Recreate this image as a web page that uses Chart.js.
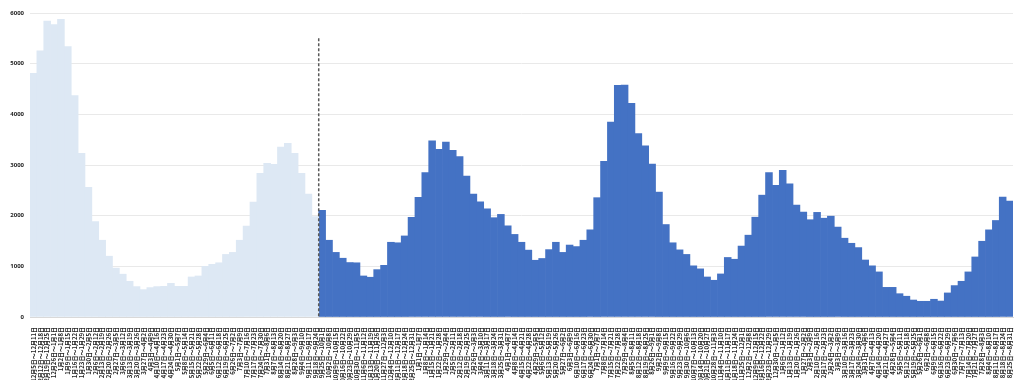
<!DOCTYPE html>
<html>
<head>
<meta charset="utf-8">
<script src="https://cdn.jsdelivr.net/npm/chart.js@4.4.1/dist/chart.umd.min.js"></script>
<style>
  html, body { margin: 0; padding: 0; background: #fff; }
  #wrap { width: 1024px; height: 380px; position: relative; }
</style>
</head>
<body>
<div id="wrap"><canvas id="weeklyChart"></canvas></div>
<script>

// weekly labels (Mon - Sun)
const weekLabels = [
  "12月5日〜12月11日","12月12日〜12月18日","12月19日〜12月25日","12月26日〜1月1日",
  "1月2日〜1月8日","1月9日〜1月15日","1月16日〜1月22日","1月23日〜1月29日","1月30日〜2月5日",
  "2月6日〜2月12日","2月13日〜2月19日","2月20日〜2月26日","2月27日〜3月5日",
  "3月6日〜3月12日","3月13日〜3月19日","3月20日〜3月26日","3月27日〜4月2日",
  "4月3日〜4月9日","4月10日〜4月16日","4月17日〜4月23日","4月24日〜4月30日",
  "5月1日〜5月7日","5月8日〜5月14日","5月15日〜5月21日","5月22日〜5月28日","5月29日〜6月4日",
  "6月5日〜6月11日","6月12日〜6月18日","6月19日〜6月25日","6月26日〜7月2日",
  "7月3日〜7月9日","7月10日〜7月16日","7月17日〜7月23日","7月24日〜7月30日","7月31日〜8月6日",
  "8月7日〜8月13日","8月14日〜8月20日","8月21日〜8月27日","8月28日〜9月3日",
  "9月4日〜9月10日","9月11日〜9月17日","9月18日〜9月24日","9月25日〜10月1日",
  "10月2日〜10月8日","10月9日〜10月15日","10月16日〜10月22日","10月23日〜10月29日","10月30日〜11月5日",
  "11月6日〜11月12日","11月13日〜11月19日","11月20日〜11月26日","11月27日〜12月3日",
  "12月4日〜12月10日","12月11日〜12月17日","12月18日〜12月24日","12月25日〜12月31日",
  "1月1日〜1月7日","1月8日〜1月14日","1月15日〜1月21日","1月22日〜1月28日","1月29日〜2月4日",
  "2月5日〜2月11日","2月12日〜2月18日","2月19日〜2月25日","2月26日〜3月3日",
  "3月4日〜3月10日","3月11日〜3月17日","3月18日〜3月24日","3月25日〜3月31日",
  "4月1日〜4月7日","4月8日〜4月14日","4月15日〜4月21日","4月22日〜4月28日","4月29日〜5月5日",
  "5月6日〜5月12日","5月13日〜5月19日","5月20日〜5月26日","5月27日〜6月2日",
  "6月3日〜6月9日","6月10日〜6月16日","6月17日〜6月23日","6月24日〜6月30日",
  "7月1日〜7月7日","7月8日〜7月14日","7月15日〜7月21日","7月22日〜7月28日","7月29日〜8月4日",
  "8月5日〜8月11日","8月12日〜8月18日","8月19日〜8月25日","8月26日〜9月1日",
  "9月2日〜9月8日","9月9日〜9月15日","9月16日〜9月22日","9月23日〜9月29日","9月30日〜10月6日",
  "10月7日〜10月13日","10月14日〜10月20日","10月21日〜10月27日","10月28日〜11月3日",
  "11月4日〜11月10日","11月11日〜11月17日","11月18日〜11月24日","11月25日〜12月1日",
  "12月2日〜12月8日","12月9日〜12月15日","12月16日〜12月22日","12月23日〜12月29日","12月30日〜1月5日",
  "1月6日〜1月12日","1月13日〜1月19日","1月20日〜1月26日","1月27日〜2月2日",
  "2月3日〜2月9日","2月10日〜2月16日","2月17日〜2月23日","2月24日〜3月2日",
  "3月3日〜3月9日","3月10日〜3月16日","3月17日〜3月23日","3月24日〜3月30日","3月31日〜4月6日",
  "4月7日〜4月13日","4月14日〜4月20日","4月21日〜4月27日","4月28日〜5月4日",
  "5月5日〜5月11日","5月12日〜5月18日","5月19日〜5月25日","5月26日〜6月1日",
  "6月2日〜6月8日","6月9日〜6月15日","6月16日〜6月22日","6月23日〜6月29日","6月30日〜7月6日",
  "7月7日〜7月13日","7月14日〜7月20日","7月21日〜7月27日","7月28日〜8月3日",
  "8月4日〜8月10日","8月11日〜8月17日","8月18日〜8月24日","8月25日〜8月31日"
]

// earlier period (light bars)
const pastValues = [
  4810, 5255, 5840, 5770, 5875, 5335, 4370, 3230, 2560, 1885,
  1515, 1200, 965, 845, 705, 600, 540, 580, 600, 605,
  665, 605, 605, 790, 810, 1000, 1040, 1070, 1235, 1275,
  1515, 1795, 2270, 2835, 3035, 3015, 3355, 3430, 3230, 2835,
  2425, 1980
]

// later period (dark bars)
const recentValues = [
  2105, 1515, 1275, 1160, 1075, 1070, 810, 785, 935, 1020,
  1475, 1465, 1600, 1965, 2360, 2850, 3475, 3310, 3450, 3290,
  3165, 2780, 2425, 2275, 2135, 1960, 2025, 1800, 1630, 1475,
  1320, 1120, 1155, 1330, 1475, 1275, 1420, 1390, 1515, 1720,
  2355, 3070, 3845, 4570, 4575, 4215, 3620, 3380, 3020, 2465,
  1825, 1465, 1325, 1235, 1010, 950, 790, 725, 850, 1175,
  1140, 1400, 1615, 1970, 2405, 2850, 2600, 2895, 2630, 2210,
  2070, 1920, 2065, 1950, 1990, 1775, 1555, 1455, 1370, 1125,
  1010, 890, 585, 585, 460, 410, 335, 310, 310, 350,
  315, 475, 620, 705, 890, 1185, 1495, 1720, 1905, 2365,
  2290
]

const yTicks = [0, 1000, 2000, 3000, 4000, 5000, 6000]
const dividerTop = 5500

const pastData = pastValues.concat(recentValues.map(() => null))
const recentData = pastValues.map(() => null).concat(recentValues)

// dashed divider between the two periods
const dividerPlugin = {
  id: 'divider',
  afterDatasetsDraw(chart){
    const x = chart.scales.x
    const y = chart.scales.y
    const px = (x.getPixelForValue(pastValues.length - 1) + x.getPixelForValue(pastValues.length)) / 2
    const ctx = chart.ctx
    ctx.save()
    ctx.strokeStyle = '#595959'
    ctx.lineWidth = 1.5
    ctx.setLineDash([3, 2])
    ctx.beginPath()
    ctx.moveTo(px, y.getPixelForValue(dividerTop))
    ctx.lineTo(px, y.getPixelForValue(0))
    ctx.stroke()
    ctx.restore()
  }
}

new Chart(document.getElementById('weeklyChart'), {
  type: 'bar',
  data: {
    labels: weekLabels,
    datasets: [
      {
        data: pastData,
        backgroundColor: '#dde8f4',
        borderWidth: 0,
        barPercentage: 1,
        categoryPercentage: 1
      },
      {
        data: recentData,
        backgroundColor: '#4472c4',
        borderWidth: 0,
        barPercentage: 1,
        categoryPercentage: 1
      }
    ]
  },
  options: {
    responsive: true,
    maintainAspectRatio: false,
    animation: false,
    layout: { padding: { left: 0, right: 11, top: 13, bottom: 0 } },
    plugins: {
      legend: { display: false },
      tooltip: { enabled: false }
    },
    scales: {
      x: {
        stacked: true,
        grid: { display: false },
        border: { display: true, color: '#d9d9d9' },
        ticks: {
          autoSkip: false,
          maxRotation: 90,
          minRotation: 90,
          padding: 2,
          color: '#222',
          font: { family: '"Noto Sans CJK JP", sans-serif', size: 6, weight: 'bold' }
        },
        afterFit(scale){ scale.height = 63 }
      },
      y: {
        stacked: true,
        min: 0,
        max: 6000,
        afterBuildTicks(scale){ scale.ticks = yTicks.map(v => ({ value: v })) },
        grid: { color: '#e9e9e9', drawTicks: false },
        border: { display: false },
        ticks: {
          padding: 6,
          color: '#222',
          font: { family: '"Noto Sans", sans-serif', size: 6, weight: 'bold' },
          callback: function(value){ return String(value) }
        },
        afterFit(scale){ scale.width = 30 }
      }
    }
  },
  plugins: [dividerPlugin]
})

</script>
</body>
</html>
